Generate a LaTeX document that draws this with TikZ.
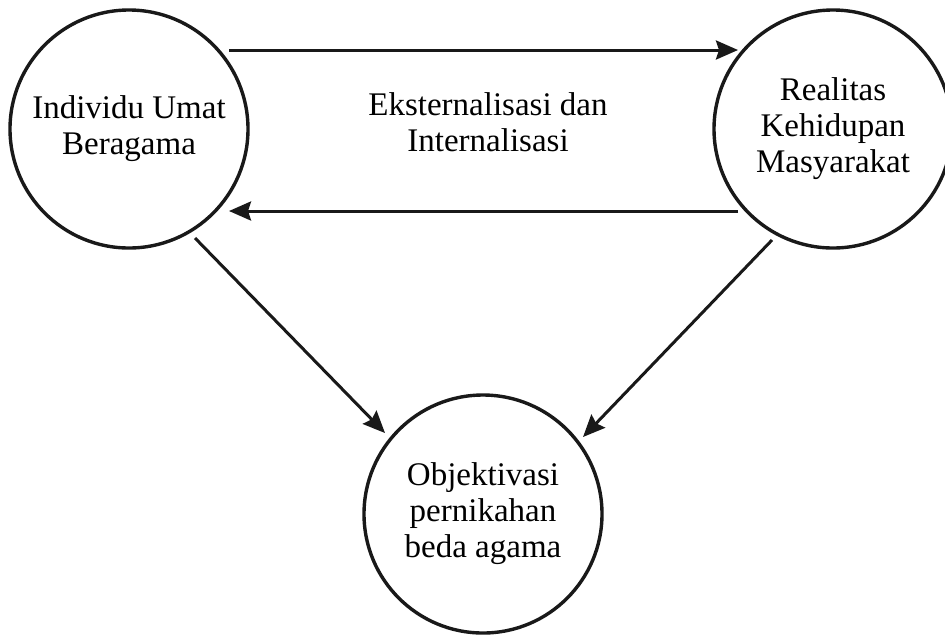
\documentclass[tikz,border=0pt]{standalone}
\usepackage{fontspec}
\setmainfont{Liberation Serif}
\usetikzlibrary{calc,arrows.meta}
\begin{document}
\begin{tikzpicture}[x=0.5pt,y=-0.5pt,
  circ/.style={circle,draw=black!90,line width=1.7pt,minimum size=119pt,inner sep=0pt,
    align=center,font=\fontsize{16.5}{18}\selectfont},
  lbl/.style={align=center,font=\fontsize{16.5}{18}\selectfont},
  arr/.style={line width=1.5pt,draw=black!90,-{Stealth[length=11pt,width=9.5pt,inset=1.5pt]}}]
\useasboundingbox[fill=white] (0,0) rectangle (945,634);
\node[circ] (L) at (129,129) {Individu Umat\\Beragama};
\node[circ] (R) at (833,129) {Realitas\\Kehidupan\\Masyarakat};
\node[circ] (B) at (483,514) {Objektivasi\\pernikahan\\beda agama};
\node[lbl] (M) at (488,122) {Eksternalisasi dan\\Internalisasi};
\draw[arr] ($(L.center)+(100,-79)$) -- ($(R.center)+(-95,-79)$);
\draw[arr] ($(R.center)+(-95,82)$) -- ($(L.center)+(100,82)$);
\draw[arr] ($(L.center)+(66,109)$) -- ($(B.center)+(-98,-81)$);
\draw[arr] ($(R.center)+(-61,111)$) -- ($(B.center)+(100,-77)$);
\end{tikzpicture}
\end{document}
